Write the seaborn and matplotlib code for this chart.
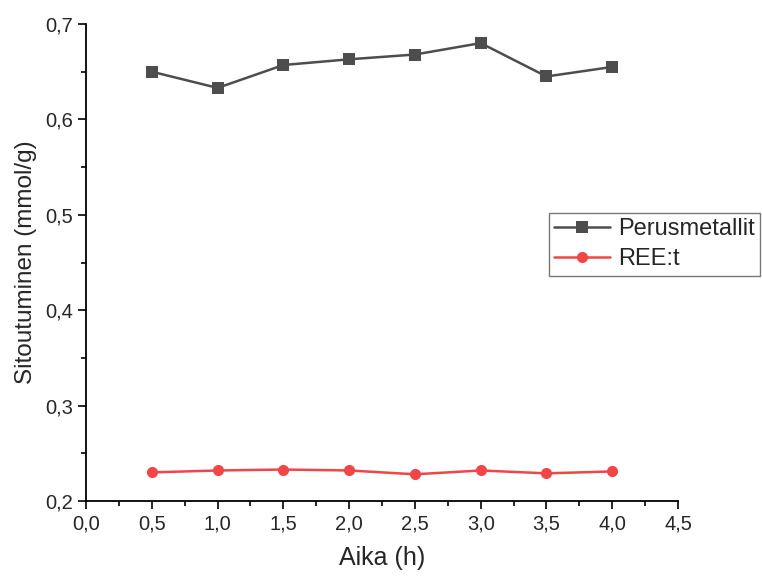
import matplotlib
matplotlib.use("Agg")
import matplotlib.pyplot as plt
from matplotlib.ticker import MultipleLocator, FuncFormatter
import seaborn as sns
import pandas as pd

# Sorption over time for two metal groups
aika = [0.5, 1.0, 1.5, 2.0, 2.5, 3.0, 3.5, 4.0]
perusmetallit = [0.650, 0.633, 0.657, 0.663, 0.668, 0.680, 0.645, 0.655]
ree = [0.230, 0.232, 0.233, 0.232, 0.228, 0.232, 0.229, 0.231]

sns.set_style("ticks")
plt.rcParams["font.family"] = ["Liberation Sans", "DejaVu Sans"]

df = pd.concat([
    pd.DataFrame({"Aika": aika, "Arvo": perusmetallit, "Sarja": "Perusmetallit"}),
    pd.DataFrame({"Aika": aika, "Arvo": ree, "Sarja": "REE:t"}),
])

fig = plt.figure(figsize=(7.62, 5.77), dpi=100)
ax = fig.add_axes([0.1129, 0.1317, 0.7769, 0.8267])

sns.lineplot(data=df, x="Aika", y="Arvo", hue="Sarja", style="Sarja",
             palette={"Perusmetallit": "#4d4d4d", "REE:t": "#f24545"},
             markers={"Perusmetallit": "s", "REE:t": "o"},
             dashes=False, markersize=8, linewidth=1.8,
             markeredgewidth=0, ax=ax)

ax.set_xlim(0, 4.5)
ax.set_ylim(0.2, 0.7)
ax.xaxis.set_major_locator(MultipleLocator(0.5))
ax.xaxis.set_minor_locator(MultipleLocator(0.25))
ax.yaxis.set_major_locator(MultipleLocator(0.1))
ax.yaxis.set_minor_locator(MultipleLocator(0.05))
ax.xaxis.set_major_formatter(FuncFormatter(lambda v, p: f"{v:.1f}".replace(".", ",")))
ax.yaxis.set_major_formatter(FuncFormatter(lambda v, p: f"{v:.1f}".replace(".", ",")))

ax.tick_params(which="major", direction="out", length=6, width=1.2, labelsize=14.5,
               color="black", pad=3.5)
ax.tick_params(which="minor", direction="out", length=3.5, width=1.2, color="black")
for s in ["top", "right"]:
    ax.spines[s].set_visible(False)
for s in ["left", "bottom"]:
    ax.spines[s].set_linewidth(1.3)
    ax.spines[s].set_color("black")

ax.set_xlabel("Aika (h)", fontsize=18, labelpad=9)
ax.set_ylabel("Sitoutuminen (mmol/g)", fontsize=17.5, labelpad=6)

handles, labels = ax.get_legend_handles_labels()
leg = ax.legend(handles, labels, loc="upper left",
                bbox_to_anchor=(549 / 762, 1 - 213 / 577), bbox_transform=fig.transFigure,
                fontsize=17, frameon=True, fancybox=False, handlelength=2.35,
                borderpad=0.22, labelspacing=0.35, handletextpad=0.35, borderaxespad=0)
leg.get_frame().set_edgecolor("#555555")
leg.get_frame().set_linewidth(1.0)

fig.savefig("out.png", dpi=100)
